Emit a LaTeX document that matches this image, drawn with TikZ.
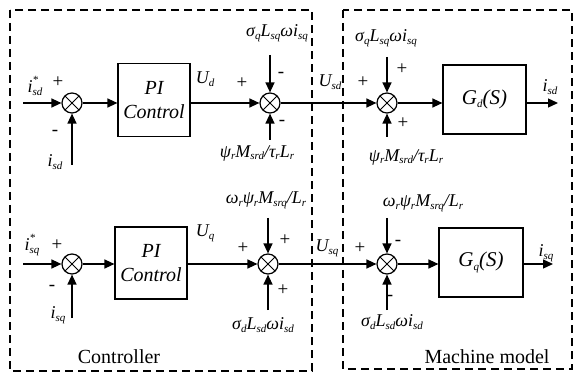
\documentclass[tikz,border=0pt]{standalone}
\usepackage{fontspec}
\setmainfont{Liberation Serif}
\usetikzlibrary{arrows.meta}
\newcommand{\sbs}[1]{\raisebox{-0.35ex}{\fontsize{11}{11}\selectfont\itshape #1}}
\newcommand{\sps}{\rlap{\raisebox{1.0ex}{\fontsize{11}{11}\selectfont *}}}
\newcommand{\lblfont}{\fontsize{18}{18}\selectfont\itshape}
\tikzset{
 sumj/.style={circle,draw,line width=1.2pt,minimum size=20pt,inner sep=0pt,
   path picture={\draw[line width=1pt] (path picture bounding box.north west)--(path picture bounding box.south east)
     (path picture bounding box.north east)--(path picture bounding box.south west);}},
 blk/.style={draw,line width=1.2pt,inner sep=0pt},
 sig/.style={line width=1.3pt,-{Triangle[length=10pt,width=9pt]}},
 txt/.style={inner sep=0pt,font=\lblfont},
 sgn/.style={inner sep=0pt,font=\fontsize{19}{19}\selectfont},
 frame/.style={dash pattern=on 8pt off 5pt,line width=1.5pt},
 bigtxt/.style={inner sep=0pt,font=\fontsize{20}{20}\selectfont}
}
\begin{document}
\begin{tikzpicture}[x=1pt,y=-1pt]
\useasboundingbox (0,0) rectangle (573,374);
% frames
\draw[frame] (10,10) rectangle (312,371);
\draw[frame] (343,10) rectangle (572,369);
\node[bigtxt] (ctl) at (119,357) {Controller};
\node[bigtxt] (mm) at (487,357) {Machine model};

% ---------- d row ----------
\node[sumj] (s1d) at (72,103) {};
\node[blk,minimum width=72pt,minimum height=73pt,align=center,font=\fontsize{20}{24}\selectfont\itshape] (pid) at (154,100) {PI\\Control};
\node[sumj] (s2d) at (270,103) {};
\node[sumj] (s3d) at (387,103) {};
\node[blk,minimum width=83pt,minimum height=69pt,font=\fontsize{21}{21}\selectfont\itshape] (gd) at (484.5,99.5) {G\sbs{d}(S)};

\coordinate (ind) at (23,103);
\coordinate (fbd) at (72,165);
\coordinate (t2d) at (270,55);
\coordinate (b2d) at (270,140);
\coordinate (t3d) at (387,57);
\coordinate (b3d) at (387,137);
\coordinate (outd) at (558,103);

\draw[sig] (ind) -- (s1d);
\draw[sig] (fbd) -- (s1d);
\draw[sig] (s1d) -- (s1d -| pid.west);
\draw[sig] (pid.east |- s1d) -- (s2d);
\draw[sig] (t2d) -- (s2d);
\draw[sig] (b2d) -- (s2d);
\draw[sig] (s2d) -- (s3d);
\draw[sig] (t3d) -- (s3d);
\draw[sig] (b3d) -- (s3d);
\draw[sig] (s3d) -- (s3d -| gd.west);
\draw[sig] (gd.east |- s3d) -- (outd);

\node[txt] (lind) at (35,86) {i\sps\sbs{sd}};
\node[sgn] (p1d) at (58,82) {+};
\node[sgn] (m1d) at (55,133) {-};
\node[txt] (lfbd) at (55,162) {i\sbs{sd}};
\node[txt] (lud) at (205,79) {U\sbs{d}};
\node[sgn] (p2d) at (242,83) {+};
\node[sgn] (mt2d) at (281,75) {-};
\node[sgn] (mb2d) at (282,123) {-};
\node[txt] (lt2d) at (277,33) {σ\sbs{q}L\sbs{sq}ωi\sbs{sq}};
\node[txt] (lb2d) at (257,153) {ψ\sbs{r}M\sbs{srd}/τ\sbs{r}L\sbs{r}};
\node[txt] (lusd) at (330,82) {U\sbs{sd}};
\node[sgn] (p3d) at (363,82) {+};
\node[sgn] (pt3d) at (402,69) {+};
\node[sgn] (pb3d) at (403,123) {+};
\node[txt] (lt3d) at (386,38) {σ\sbs{q}L\sbs{sq}ωi\sbs{sq}};
\node[txt] (lb3d) at (406,157) {ψ\sbs{r}M\sbs{srd}/τ\sbs{r}L\sbs{r}};
\node[txt] (loutd) at (550,87) {i\sbs{sd}};

% ---------- q row ----------
\node[sumj] (s1q) at (72,264) {};
\node[blk,minimum width=72pt,minimum height=72pt,align=center,font=\fontsize{20}{24}\selectfont\itshape] (piq) at (151,263) {PI\\Control};
\node[sumj] (s2q) at (268,264) {};
\node[sumj] (s3q) at (387,264) {};
\node[blk,minimum width=84pt,minimum height=69pt,font=\fontsize{21}{21}\selectfont\itshape] (gq) at (481,262.5) {G\sbs{q}(S)};

\coordinate (inq) at (23,264);
\coordinate (fbq) at (72,318);
\coordinate (t2q) at (268,218);
\coordinate (b2q) at (268,310);
\coordinate (t3q) at (387,218);
\coordinate (b3q) at (387,310);
\coordinate (outq) at (553,264);

\draw[sig] (inq) -- (s1q);
\draw[sig] (fbq) -- (s1q);
\draw[sig] (s1q) -- (s1q -| piq.west);
\draw[sig] (piq.east |- s1q) -- (s2q);
\draw[sig] (t2q) -- (s2q);
\draw[sig] (b2q) -- (s2q);
\draw[sig] (s2q) -- (s3q);
\draw[sig] (t3q) -- (s3q);
\draw[sig] (b3q) -- (s3q);
\draw[sig] (s3q) -- (s3q -| gq.west);
\draw[sig] (gq.east |- s3q) -- (outq);

\node[txt] (linq) at (32,245) {i\sps\sbs{sq}};
\node[sgn] (p1q) at (57,245) {+};
\node[sgn] (m1q) at (52,288) {-};
\node[txt] (lfbq) at (58,315) {i\sbs{sq}};
\node[txt] (luq) at (205,233) {U\sbs{q}};
\node[sgn] (p2q) at (243,248) {+};
\node[sgn] (pt2q) at (285,240) {+};
\node[sgn] (pb2q) at (283,290) {+};
\node[txt] (lt2q) at (266,200) {ω\sbs{r}ψ\sbs{r}M\sbs{srq}/L\sbs{r}};
\node[txt] (lb2q) at (263,325) {σ\sbs{d}L\sbs{sd}ωi\sbs{sd}};
\node[txt] (lusq) at (327,248) {U\sbs{sq}};
\node[sgn] (p3q) at (360,248) {+};
\node[sgn] (mt3q) at (398,243) {-};
\node[sgn] (mb3q) at (390,298) {-};
\node[txt] (lt3q) at (423,203) {ω\sbs{r}ψ\sbs{r}M\sbs{srq}/L\sbs{r}};
\node[txt] (lb3q) at (392,322) {σ\sbs{d}L\sbs{sd}ωi\sbs{sd}};
\node[txt] (loutq) at (546,253) {i\sbs{sq}};
\end{tikzpicture}
\end{document}
